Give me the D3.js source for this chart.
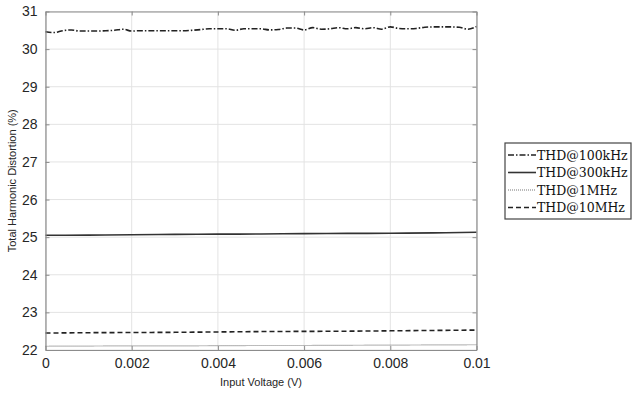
<!DOCTYPE html>
<html>
<head>
<meta charset="utf-8">
<script src="https://cdn.jsdelivr.net/npm/d3@7"></script>
<style>
  body { margin: 0; background: #fff; }
  svg { font-family: "Liberation Sans", Arial, sans-serif; }
  .grid line { stroke: #e3e3e3; stroke-width: 1; }
  .tick-label { fill: #262626; font-size: 14px; }
  .axis-title { fill: #262626; font-size: 11px; }
  .legend-text { font-family: "DejaVu Serif", "Liberation Serif", serif; font-size: 12.5px; fill: #111; }
</style>
</head>
<body>
<div id="chart"></div>
<script>
// x values (Input Voltage, V)
const xFine = d3.range(51).map(i => i * 0.0002);
const xCoarse = d3.range(11).map(i => i * 0.001);

// THD values (%)
const thd100k = [30.46, 30.44, 30.49, 30.51, 30.48, 30.48, 30.48, 30.49, 30.50, 30.53,
                 30.48, 30.49, 30.49, 30.49, 30.49, 30.49, 30.49, 30.50, 30.52, 30.54,
                 30.54, 30.54, 30.50, 30.54, 30.54, 30.54, 30.51, 30.52, 30.56, 30.56,
                 30.51, 30.57, 30.53, 30.54, 30.57, 30.54, 30.57, 30.54, 30.57, 30.53,
                 30.59, 30.55, 30.54, 30.55, 30.58, 30.59, 30.59, 30.59, 30.58, 30.53, 30.60];
const thd300k = [25.05, 25.055, 25.065, 25.075, 25.08, 25.085, 25.095, 25.10, 25.105, 25.115, 25.13];
const thd1M   = [22.10, 22.105, 22.11, 22.11, 22.115, 22.12, 22.12, 22.125, 22.13, 22.135, 22.14];
const thd10M  = [22.45, 22.46, 22.465, 22.47, 22.48, 22.49, 22.495, 22.50, 22.51, 22.52, 22.53];

const xTicks = [0, 0.002, 0.004, 0.006, 0.008, 0.01];
const yTicks = [22, 23, 24, 25, 26, 27, 28, 29, 30, 31];
const seriesNames = ['THD@100kHz', 'THD@300kHz', 'THD@1MHz', 'THD@10MHz'];

const width = 633, height = 394;
const plot = { left: 45.5, right: 476.5, top: 11.5, bottom: 350 };

const svg = d3.select('#chart').append('svg').attr('width', width).attr('height', height);

const scaleX = d3.scaleLinear().domain([0, 0.01]).range([plot.left, plot.right]);
const scaleY = d3.scaleLinear().domain([22, 31]).range([plot.bottom, plot.top]);

// grid
const grid = svg.append('g').classed('grid', true);
grid.selectAll('.gx').data(xTicks).join('line')
    .attr('x1', d => scaleX(d)).attr('x2', d => scaleX(d))
    .attr('y1', plot.top).attr('y2', plot.bottom);
grid.selectAll('.gy').data(yTicks).join('line')
    .attr('x1', plot.left).attr('x2', plot.right)
    .attr('y1', d => scaleY(d)).attr('y2', d => scaleY(d));

// series
const series = [
    { name: seriesNames[0], xs: xFine,   ys: thd100k, dash: '6,2,1.5,2', w: 1.6, color: '#222' },
    { name: seriesNames[1], xs: xCoarse, ys: thd300k, dash: null,        w: 1.6, color: '#333' },
    { name: seriesNames[2], xs: xCoarse, ys: thd1M,   dash: '1,1',       w: 1.2, color: '#777' },
    { name: seriesNames[3], xs: xCoarse, ys: thd10M,  dash: '5,3',       w: 1.6, color: '#222' }
];
const line = d3.line().x(d => scaleX(d[0])).y(d => scaleY(d[1])).curve(d3.curveMonotoneX);
const lines = svg.append('g');
series.forEach(s => {
    lines.append('path').datum(s.xs.map((x, i) => [x, s.ys[i]]))
        .attr('d', line).attr('fill', 'none')
        .attr('stroke', s.color).attr('stroke-width', s.w)
        .attr('stroke-dasharray', s.dash);
});

// axes (MATLAB style box with inner ticks)
const axisX = svg.append('g').attr('transform', `translate(0,${plot.bottom})`)
    .call(d3.axisBottom(scaleX).tickValues(xTicks).tickSizeInner(-4).tickSizeOuter(0)
        .tickPadding(8).tickFormat(d => d === 0 ? '0' : d3.format('.3~f')(d)));
const axisXTop = svg.append('g').attr('transform', `translate(0,${plot.top})`)
    .call(d3.axisTop(scaleX).tickValues(xTicks).tickSizeInner(-4).tickSizeOuter(0).tickFormat(''));
const axisY = svg.append('g').attr('transform', `translate(${plot.left},0)`)
    .call(d3.axisLeft(scaleY).tickValues(yTicks).tickSizeInner(-4).tickSizeOuter(0).tickPadding(8));
const axisYRight = svg.append('g').attr('transform', `translate(${plot.right},0)`)
    .call(d3.axisRight(scaleY).tickValues(yTicks).tickSizeInner(-4).tickSizeOuter(0).tickFormat(''));

[axisX, axisXTop, axisY, axisYRight].forEach(a => {
    a.select('.domain').attr('stroke', '#8c8c8c').attr('stroke-width', 1.2);
    a.selectAll('.tick line').attr('stroke', '#8c8c8c');
    a.selectAll('.tick text').attr('class', 'tick-label').attr('font-family', null).attr('font-size', null);
});

// axis titles
svg.append('text').classed('axis-title', true)
    .attr('x', (plot.left + plot.right) / 2).attr('y', 386).attr('text-anchor', 'middle')
    .text('Input Voltage (V)');
svg.append('text').classed('axis-title', true)
    .attr('transform', `translate(16,${(plot.top + plot.bottom) / 2})rotate(-90)`)
    .attr('text-anchor', 'middle')
    .text('Total Harmonic Distortion (%)');

// legend
const legend = svg.append('g').attr('transform', 'translate(505,143)');
legend.append('rect').attr('x', 0).attr('y', 0).attr('width', 126).attr('height', 76)
    .attr('fill', '#fff').attr('stroke', '#444').attr('stroke-width', 1.2);
series.forEach((s, i) => {
    const y = 12 + i * 17.5;
    legend.append('line').attr('x1', 3).attr('x2', 31).attr('y1', y).attr('y2', y)
        .attr('stroke', s.color).attr('stroke-width', s.w).attr('stroke-dasharray', s.dash);
    legend.append('text').classed('legend-text', true)
        .attr('x', 32).attr('y', y + 4.5).text(s.name);
});
</script>
</body>
</html>
